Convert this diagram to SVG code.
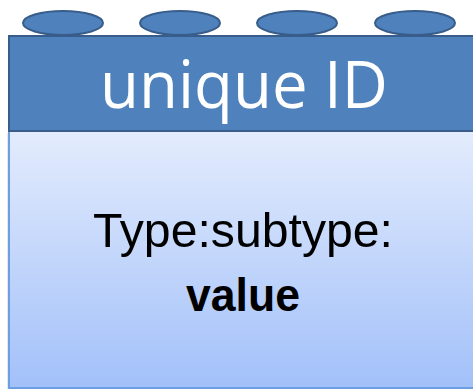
<svg xmlns="http://www.w3.org/2000/svg" width="473" height="389" viewBox="0 0 473 389">
  <defs>
    <linearGradient id="bodyGrad" x1="0" y1="0" x2="0" y2="1">
      <stop offset="0" stop-color="#e3ecfd"/>
      <stop offset="1" stop-color="#a2c0f9"/>
    </linearGradient>
  </defs>
  <style>
    .stud { fill: #4f81bd; stroke: #385d8a; stroke-width: 2; }
    .hdr { fill: #4f81bd; stroke: #385d8a; stroke-width: 2; }
    .body { fill: url(#bodyGrad); stroke: #6d9de3; stroke-width: 2; }
    .title { font-family: "Open Sans", "Liberation Sans", sans-serif; font-size: 66px; fill: #ffffff; text-anchor: middle; }
    .lbl { font-family: "Liberation Sans", sans-serif; font-size: 48px; fill: #000000; text-anchor: middle; }
    .val { font-family: "Liberation Sans", sans-serif; font-size: 46px; font-weight: bold; fill: #000000; text-anchor: middle; }
  </style>
  <rect width="473" height="389" fill="#ffffff"/>
  <g id="brick">
    <g id="studs">
      <ellipse class="stud" cx="63" cy="23" rx="40" ry="12"/>
      <ellipse class="stud" cx="180" cy="23" rx="40" ry="12"/>
      <ellipse class="stud" cx="297" cy="23" rx="40" ry="12"/>
      <ellipse class="stud" cx="415" cy="23" rx="40" ry="12"/>
    </g>
    <g id="body">
      <rect x="7" y="133" width="470" height="257" fill="#d8d8d8" opacity="0.6"/>
      <rect class="body" x="9" y="131" width="470" height="257"/>
      <text class="lbl" x="243" y="247" textLength="300" lengthAdjust="spacingAndGlyphs">Type:subtype:</text>
      <text class="val" x="243" y="311" textLength="114" lengthAdjust="spacingAndGlyphs">value</text>
    </g>
    <g id="header">
      <rect class="hdr" x="9" y="36" width="470" height="95"/>
      <text class="title" x="244" y="108" textLength="288" lengthAdjust="spacingAndGlyphs">unique ID</text>
    </g>
  </g>
</svg>
